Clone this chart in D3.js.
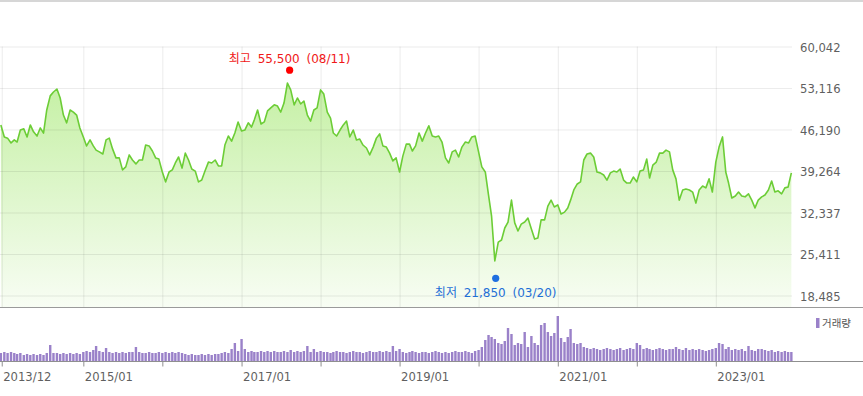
<!DOCTYPE html>
<html>
<head>
<meta charset="utf-8">
<script src="https://cdn.jsdelivr.net/npm/d3@7"></script>
<style>
  body { margin: 0; background: #fff; }
  svg { display: block; font-family: 'DejaVu Sans', 'Noto Sans CJK KR', sans-serif; }
</style>
</head>
<body>
<div id="chart"></div>
<script>
// Closing prices, two per month (1st and 16th)
const price2013 = [46950];
const price2014 = [44950, 44750, 43950, 44450, 44100, 46100, 46300, 44950, 46950, 45800, 45100, 46450,
  45600, 49450, 51800, 52450, 52950, 51450, 48600, 47300, 49450, 49100, 48600, 46450];
const price2015 = [44950, 43450, 44450, 43450, 42750, 42450, 42100, 44450, 44750, 42950, 41450, 41450,
  39450, 39950, 41950, 41100, 40450, 41100, 41100, 43600, 43450, 42600, 41450, 41250];
const price2016 = [39100, 37450, 39100, 39450, 40600, 41600, 39750, 42250, 41100, 39600, 39250, 37450,
  37750, 39250, 40750, 40600, 41100, 40100, 40100, 43600, 45100, 44250, 45600, 47450];
const price2017 = [45950, 46100, 47300, 46600, 47800, 49450, 47100, 47450, 49300, 49800, 50300, 50100,
  49100, 50600, 53950, 52800, 50300, 51450, 50450, 50950, 48600, 47600, 49450, 49800];
const price2018 = [52800, 52100, 49100, 48100, 45600, 45100, 46100, 46950, 47600, 44950, 46100, 44450,
  44600, 43600, 43100, 41950, 43250, 44750, 45450, 43450, 43250, 42250, 40950, 41450];
const price2019 = [39100, 41750, 43750, 43750, 42600, 43450, 45600, 44250, 45600, 46800, 45100, 44950,
  45100, 44100, 41450, 40600, 42450, 42750, 41600, 43250, 44100, 43950, 44950, 45100];
const price2020 = [42450, 39950, 39100, 35250, 31750, 24250, 27400, 27750, 29750, 30750, 34400, 30600,
  29250, 30400, 30750, 31400, 29600, 27900, 28100, 31100, 31100, 33400, 34400, 33250];
const price2021 = [33600, 32100, 32400, 33100, 34400, 36100, 37100, 37450, 41100, 42100, 42250, 41600,
  39100, 38950, 38600, 37750, 38950, 39250, 39100, 39600, 37750, 37250, 37250, 38250];
const price2022 = [37450, 39250, 39450, 41250, 38100, 40250, 40750, 42250, 42250, 42750, 42450, 39450,
  37950, 34400, 36100, 36250, 36100, 35750, 33900, 36100, 36750, 36450, 37950, 35750];
const price2023 = [40750, 43250, 44950, 39100, 37250, 34750, 35100, 35750, 35100, 34950, 35450, 34400,
  33100, 34400, 34950, 35250, 36100, 37600, 35750, 35950, 35450, 36450, 36600, 38950];

// Trading volume, same dates
const volume2013 = [8];
const volume2014 = [9, 8, 9, 8, 7, 8, 6, 7, 6, 7, 6, 7, 6, 8, 16, 8, 8, 7, 8, 7, 8, 7, 8, 7];
const volume2015 = [9, 10, 9, 11, 15, 10, 9, 13, 9, 8, 9, 8, 9, 8, 9, 9, 14, 9, 8, 8, 9, 8, 8, 9];
const volume2016 = [8, 9, 8, 9, 8, 9, 8, 7, 6, 7, 6, 6, 7, 6, 7, 6, 7, 7, 8, 9, 8, 12, 18, 10];
const volume2017 = [22, 12, 9, 10, 9, 9, 10, 9, 10, 9, 10, 9, 9, 10, 9, 11, 9, 10, 9, 10, 15, 9, 12, 9];
const volume2018 = [10, 9, 9, 8, 9, 10, 9, 9, 8, 9, 10, 9, 9, 8, 9, 10, 9, 9, 10, 9, 10, 9, 15, 10];
const volume2019 = [12, 9, 8, 9, 10, 9, 8, 9, 9, 8, 9, 10, 9, 8, 9, 8, 9, 10, 9, 9, 10, 9, 8, 10];
const volume2020 = [11, 14, 21, 26, 24, 22, 18, 17, 20, 33, 27, 16, 18, 17, 29, 14, 25, 18, 16, 36, 38, 29, 25, 28];
const volume2021 = [45, 23, 19, 24, 32, 18, 17, 18, 14, 13, 12, 13, 12, 11, 12, 13, 12, 11, 12, 13, 11, 12, 13, 12];
const volume2022 = [18, 16, 12, 13, 12, 11, 12, 13, 12, 11, 12, 12, 14, 12, 11, 13, 11, 12, 11, 12, 11, 10, 11, 12];
const volume2023 = [13, 18, 17, 12, 14, 11, 12, 11, 12, 10, 15, 11, 10, 12, 12, 11, 10, 11, 9, 10, 9, 10, 9, 9];

const years = [2013, 2014, 2015, 2016, 2017, 2018, 2019, 2020, 2021, 2022, 2023];
const priceByYear = [price2013, price2014, price2015, price2016, price2017, price2018,
  price2019, price2020, price2021, price2022, price2023];
const volumeByYear = [volume2013, volume2014, volume2015, volume2016, volume2017, volume2018,
  volume2019, volume2020, volume2021, volume2022, volume2023];

const yTickValues = [18485, 25411, 32337, 39264, 46190, 53116, 60042];
const xTickDates = ['2013-12-20', '2015-01-01', '2016-01-01', '2017-01-01', '2018-01-01',
  '2019-01-01', '2020-01-01', '2021-01-01', '2022-01-01', '2023-01-01'];
const xTickLabels = ['2013/12', '2015/01', '', '2017/01', '', '2019/01', '', '2021/01', '', '2023/01'];

const highPoint = { date: '2017-08-11', value: 55500, label: '최고 55,500 (08/11)' };
const lowPoint = { date: '2020-03-20', value: 21850, label: '최저 21,850 (03/20)' };

// Build the table: values fill the last slots of each year
const data = [];
years.forEach((year, k) => {
  const prices = priceByYear[k];
  const offset = 24 - prices.length;
  prices.forEach((p, i) => {
    const slot = i + offset;
    data.push({
      date: new Date(year, Math.floor(slot / 2), slot % 2 ? 16 : 1),
      price: p,
      volume: volumeByYear[k][i],
    });
  });
});

const W = 863, H = 396;
const plotRight = 792;
const priceTop = 46.5, priceBottom = 307.5;
const volBase = 361.5;
const parseDay = d3.timeParse('%Y-%m-%d');
const tickDates = xTickDates.map(parseDay);

const svg = d3.select('#chart').append('svg').attr('width', W).attr('height', H);

const x = d3.scaleTime()
  .domain([new Date(2013, 11, 12), new Date(2023, 11, 19)])
  .range([0, plotRight]);
const y = d3.scaleLinear().domain([18485, 60042]).range([295.5, priceTop]);
const yVol = d3.scaleLinear()
  .domain([0, d3.max(data, (d) => d.volume)])
  .range([volBase - 0.5, 316]);

// top border
svg.append('line')
  .attr('x1', 0).attr('x2', W).attr('y1', 1).attr('y2', 1)
  .style('stroke', '#c8c8c8').style('stroke-width', 1.5);

// gradient fill under the price line
const defs = svg.append('defs');
const gradient = defs.append('linearGradient')
  .attr('id', 'priceFill')
  .attr('gradientUnits', 'userSpaceOnUse')
  .attr('x1', 0).attr('y1', priceTop)
  .attr('x2', 0).attr('y2', priceBottom);
gradient.append('stop').attr('offset', '0%').attr('stop-color', '#bdee98');
gradient.append('stop').attr('offset', '100%').attr('stop-color', '#f8fdf4');

const area = d3.area()
  .x((d) => x(d.date))
  .y0(priceBottom)
  .y1((d) => y(d.price));

svg.append('path')
  .datum(data)
  .attr('fill', 'url(#priceFill)')
  .attr('d', area);

// horizontal grid
svg.append('g')
  .call(d3.axisLeft(y).tickValues(yTickValues).tickSize(-plotRight).tickFormat(''))
  .call((g) => g.select('.domain').remove())
  .call((g) => g.selectAll('line').style('stroke', 'rgba(0,0,0,0.08)'));

// vertical grid
svg.append('g')
  .attr('transform', `translate(0,${priceBottom})`)
  .call(d3.axisBottom(x).tickValues(tickDates).tickSize(-(priceBottom - priceTop)).tickFormat(''))
  .call((g) => g.select('.domain').remove())
  .call((g) => g.selectAll('line').style('stroke', 'rgba(0,0,0,0.08)'));

const line = d3.line()
  .x((d) => x(d.date))
  .y((d) => y(d.price));

svg.append('path')
  .datum(data)
  .attr('fill', 'none')
  .attr('stroke', '#6ccd36')
  .attr('stroke-width', 1.6)
  .attr('stroke-linejoin', 'round')
  .attr('d', line);

// price panel bottom
svg.append('line')
  .attr('x1', 0).attr('x2', W).attr('y1', priceBottom).attr('y2', priceBottom)
  .style('stroke', '#9a9a9a');

// right price labels
svg.append('g')
  .attr('transform', `translate(${plotRight},0)`)
  .call(d3.axisRight(y).tickValues(yTickValues).tickSize(0).tickPadding(8).tickFormat(d3.format(',')))
  .call((g) => g.select('.domain').remove())
  .call((g) => g.selectAll('text')
    .attr('dy', '0.4em')
    .style('font-size', '11.6px')
    .style('font-family', 'DejaVu Sans')
    .style('fill', '#5f5f5f'));

// volume bars
svg.append('g')
  .selectAll('rect')
  .data(data)
  .join('rect')
  .attr('x', (d) => x(d.date) - 1.2)
  .attr('width', 2.4)
  .attr('y', (d) => yVol(d.volume))
  .attr('height', (d) => yVol(0) - yVol(d.volume))
  .attr('fill', '#9a81c9');

// volume baseline, ticks and date labels
svg.append('line')
  .attr('x1', 0).attr('x2', W).attr('y1', volBase).attr('y2', volBase)
  .style('stroke', '#8f8f8f');

svg.append('g')
  .attr('transform', `translate(0,${volBase})`)
  .call(d3.axisBottom(x).tickValues(tickDates).tickSize(5).tickFormat((d, i) => xTickLabels[i]))
  .call((g) => g.select('.domain').remove())
  .call((g) => g.selectAll('line').style('stroke', '#8f8f8f'))
  .call((g) => g.selectAll('text')
    .attr('x', 1)
    .attr('y', 19.5)
    .attr('dy', null)
    .style('text-anchor', 'start')
    .style('font-size', '11.6px')
    .style('font-family', 'DejaVu Sans')
    .style('fill', '#5f5f5f'));

// legend
svg.append('rect')
  .attr('x', 816).attr('y', 318).attr('width', 3.5).attr('height', 10)
  .attr('fill', '#9a81c9');
svg.append('text')
  .attr('x', 822).attr('y', 327)
  .text('거래량')
  .style('font-family', 'Noto Sans CJK KR')
  .style('font-size', '10.5px')
  .style('fill', '#555');

// high / low markers
const hx = x(parseDay(highPoint.date));
svg.append('circle')
  .attr('cx', hx).attr('cy', y(highPoint.value) - 3.5).attr('r', 3.6)
  .attr('fill', '#ff0000');
svg.append('text')
  .attr('x', hx).attr('y', 62.5)
  .text(highPoint.label)
  .style('text-anchor', 'middle')
  .style('font-size', '12px')
  .style('word-spacing', '3px')
  .style('fill', '#f01818');

const lx = x(parseDay(lowPoint.date));
svg.append('circle')
  .attr('cx', lx).attr('cy', y(lowPoint.value) + 3).attr('r', 3.6)
  .attr('fill', '#1f6fe0');
svg.append('text')
  .attr('x', lx).attr('y', 296.5)
  .text(lowPoint.label)
  .style('text-anchor', 'middle')
  .style('font-size', '12px')
  .style('word-spacing', '3px')
  .style('fill', '#1f6fd6');
</script>
</body>
</html>
